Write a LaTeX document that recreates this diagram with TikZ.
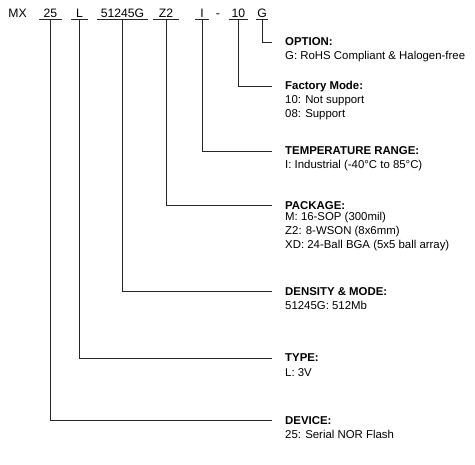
\documentclass[tikz,border=0pt]{standalone}
\usepackage{fontspec}
\setmainfont{Liberation Sans}
\begin{document}
\begin{tikzpicture}[x=1pt,y=-1pt,
  conn/.style={draw=black!85,line width=1pt},
  code/.style={font=\fontsize{12.2}{14}\selectfont,anchor=base,inner xsep=0pt,inner ysep=2pt,text depth=0pt},
  ttl/.style={font=\fontsize{11.4}{13}\selectfont\bfseries,anchor=base west,inner sep=0pt,text height=7.6pt,text depth=0pt},
  bdy/.style={font=\fontsize{11.4}{13}\selectfont,anchor=base west,inner sep=0pt}]
\useasboundingbox (0,0) rectangle (475,465);
% part number
\node[code] (cMX) at (17.5,17.3) {MX};
\node[code,minimum width=22pt] (c25) at (50.5,17.3) {25};
\node[code,minimum width=17pt] (cL) at (79.5,17.3) {L};
\node[code,minimum width=51.5pt] (cDen) at (122.5,17.3) {51245G};
\node[code,minimum width=25.5pt] (cZ2) at (166,17.3) {Z2};
\node[code,minimum width=13pt] (cI) at (202,17.3) {I};
\node[code] (cDash) at (218,17.3) {-};
\node[code,minimum width=19pt] (c10) at (238.5,17.3) {10};
\node[code,minimum width=12.5pt] (cG) at (262,17.3) {G};
\foreach \n in {c25,cL,cDen,cZ2,cI,c10,cG}
  \draw[conn] (\n.south west) -- (\n.south east);
% labels
\node[ttl] (optT) at (285,46) {OPTION:};
\node[bdy] (optB) at (285,59.3) {G: RoHS Compliant \& Halogen-free};
\node[ttl] (facT) at (285,90) {Factory Mode:};
\node[bdy] (facB1) at (285,104) {10: Not support};
\node[bdy] (facB2) at (285,117.3) {08: Support};
\node[ttl] (tmpT) at (285,155) {TEMPERATURE RANGE:};
\node[bdy] (tmpB) at (285,169) {I: Industrial (-40°C to 85°C)};
\node[ttl] (pkgT) at (285,209.5) {PACKAGE:};
\node[bdy] (pkgB1) at (285,221) {M: 16-SOP (300mil)};
\node[bdy] (pkgB2) at (285,235) {Z2: 8-WSON (8x6mm)};
\node[bdy] (pkgB3) at (285,249) {XD: 24-Ball BGA (5x5 ball array)};
\node[ttl] (denT) at (285,295.5) {DENSITY \& MODE:};
\node[bdy] (denB) at (285,309.5) {51245G: 512Mb};
\node[ttl] (typT) at (285,362) {TYPE:};
\node[bdy] (typB) at (285,376.5) {L: 3V};
\node[ttl] (devT) at (285,424.5) {DEVICE:};
\node[bdy] (devB) at (285,438.5) {25: Serial NOR Flash};
% connectors
\draw[conn] (cG.south) |- ([xshift=-13pt]optT.west);
\draw[conn] (c10.south) |- ([xshift=-13pt]facT.west);
\draw[conn] (cI.south) |- ([xshift=-13pt]tmpT.west);
\draw[conn] (cZ2.south) |- ([xshift=-13pt]pkgT.west);
\draw[conn] (cDen.south) |- ([xshift=-13pt]denT.west);
\draw[conn] (cL.south) |- ([xshift=-13pt]typT.west);
\draw[conn] (c25.south) |- ([xshift=-13pt]devT.west);
\end{tikzpicture}
\end{document}
